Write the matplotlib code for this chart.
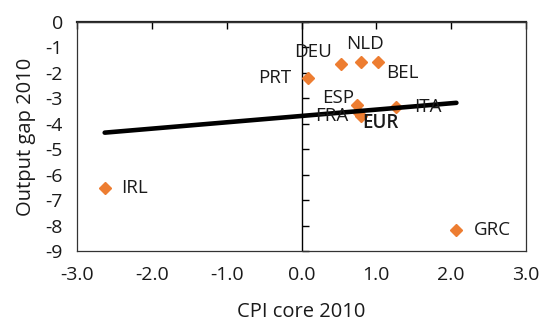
import numpy as np
import matplotlib
matplotlib.use("Agg")
import matplotlib.pyplot as plt

plt.rcParams['font.family'] = ['Open Sans', 'DejaVu Sans']

countries = ["IRL", "GRC", "PRT", "DEU", "NLD", "BEL", "ESP", "FRA", "EUR", "ITA"]
cpi_core = [-2.63, 2.07, 0.09, 0.53, 0.80, 1.02, 0.74, 0.76, 0.80, 1.26]
output_gap = [-6.54, -8.19, -2.20, -1.65, -1.57, -1.57, -3.27, -3.55, -3.68, -3.35]

# label placement (offset in pixels, horizontal alignment)
label_offsets = {
    "IRL": (16, 0, "left"), "GRC": (17, 0, "left"), "PRT": (-17, 0, "right"),
    "DEU": (-28, 12, "center"), "NLD": (4, 18, "center"), "BEL": (8, -11, "left"),
    "ESP": (-3, 7, "right"), "FRA": (-10, -4, "right"), "EUR": (1, -7, "left"),
    "ITA": (18, 0, "left"),
}

x = np.array(cpi_core)
y = np.array(output_gap)

fig = plt.figure(figsize=(5.41, 3.22), dpi=100)
ax = fig.add_axes([77/541, 1 - 251/322, 449/541, 229/322])

orange = "#ED7D31"
ax.plot(x, y, ls="none", marker="D", ms=6.2, color=orange, zorder=3)

# linear trend across the full sample
slope, intercept = np.polyfit(x, y, 1)
xs = np.array([x.min(), x.max()])
ax.plot(xs, slope * xs + intercept, color="black", lw=3.3, solid_capstyle="round", zorder=4)

for name, xi, yi in zip(countries, x, y):
    dx, dy, ha = label_offsets[name]
    ax.annotate(name, (xi, yi), xytext=(dx, dy), textcoords="offset pixels",
                ha=ha, va="center", fontsize=13.5, color="#1a1a1a",
                fontweight="semibold" if name == "EUR" else "normal", zorder=5)

ax.set_xlim(-3, 3)
ax.set_ylim(-9, 0)
xticks = np.arange(-3, 3.01, 1.0)
yticks = np.arange(-9, 0.01, 1)
ax.set_xticks(xticks)
ax.set_yticks(yticks)
ax.set_xticklabels([f"{t:.1f}" for t in xticks])
ax.set_yticklabels([f"{int(t)}" for t in yticks])
ax.tick_params(length=0, labelsize=14, colors="#1a1a1a")
ax.tick_params(axis="x", pad=11)
ax.tick_params(axis="y", pad=10)

# axes crossing at the origin, with their own tick marks
ax.axvline(0, color="black", lw=1.0, zorder=2)
ax.axhline(0, color="#222222", lw=1.6, zorder=2, clip_on=False)
ax.plot(np.zeros_like(yticks), yticks, ls="none", marker=1, ms=5, mew=1.0,
        color="black", clip_on=False, zorder=2)
ax.plot(xticks, np.zeros_like(xticks), ls="none", marker=3, ms=5, mew=1.0,
        color="black", clip_on=False, zorder=2)

for s in ax.spines.values():
    s.set_color("#333333")
    s.set_linewidth(0.9)

ax.set_xlabel("CPI core 2010", fontsize=14.5, color="#1a1a1a", labelpad=13)
ax.set_ylabel("Output gap 2010", fontsize=14.5, color="#1a1a1a", labelpad=7)

fig.savefig("out.png", dpi=100)
